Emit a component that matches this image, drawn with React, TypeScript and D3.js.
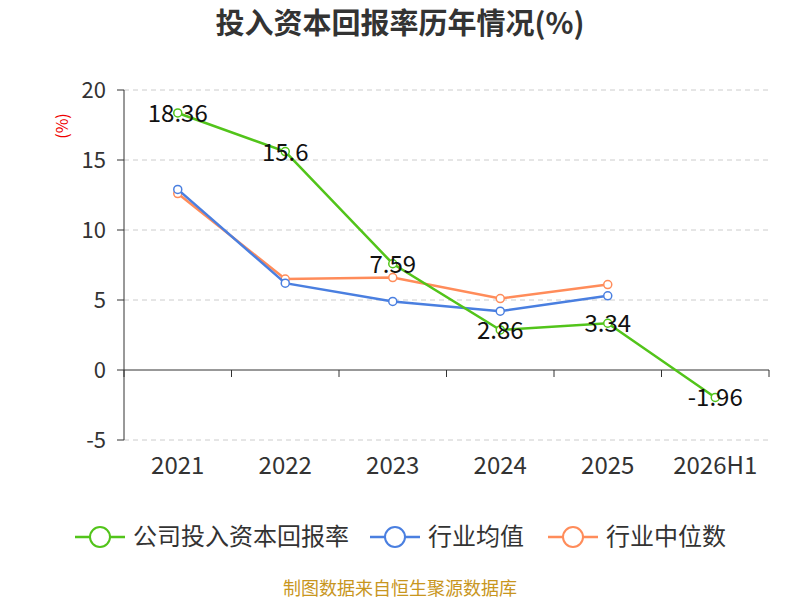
import React from "react";
import * as d3 from "d3";

const categories = ["2021", "2022", "2023", "2024", "2025", "2026H1"];
const company = [18.36, 15.6, 7.59, 2.86, 3.34, -1.96];
const industryAvg = [12.9, 6.2, 4.9, 4.2, 5.3];
const industryMedian = [12.6, 6.5, 6.6, 5.1, 6.1];
const yTicks = [-5, 0, 5, 10, 15, 20];

const F = "'Noto Sans CJK SC','Noto Sans',sans-serif";

export default function App() {
  const x = d3.scaleBand().domain(categories).range([124, 769]);
  const y = d3.scaleLinear().domain([-5, 20]).range([440, 90]);
  const cx = (i: number) => x(categories[i])! + x.bandwidth() / 2;
  const line = d3.line<number>().x((_, i) => cx(i)).y((d) => y(d));
  const series = [
    { name: "公司投入资本回报率", data: company, color: "#52c41a" },
    { name: "行业均值", data: industryAvg, color: "#4a7fe0" },
    { name: "行业中位数", data: industryMedian, color: "#ff8c5a" },
  ];
  const legendX = [75, 370, 548];
  return (
    <svg width={800} height={600} style={{ position: "absolute", left: 0, top: 0, fontFamily: F }}>
      <rect width={800} height={600} fill="#fff" />
      <text x={400} y={34} textAnchor="middle" fontSize={29} fontWeight="bold" fill="#333">投入资本回报率历年情况(%)</text>
      <text x={68} y={126} fontSize={16} fill="#e00" textAnchor="middle" transform="rotate(-90 68 126)">(%)</text>
      {yTicks.map((t) => (
        <g key={t}>
          {t !== 0 && <line x1={124} x2={769} y1={y(t)} y2={y(t)} stroke="#ccc" strokeDasharray="5,4" />}
          <line x1={117} x2={124} y1={y(t)} y2={y(t)} stroke="#333" />
          <text x={106} y={y(t) + 8} textAnchor="end" fontSize={22} fill="#333">{t}</text>
        </g>
      ))}
      <line x1={124} x2={124} y1={90} y2={440} stroke="#333" />
      <line x1={124} x2={769} y1={y(0)} y2={y(0)} stroke="#333" />
      {d3.range(categories.length + 1).map((i) => {
        const xx = 124 + i * x.step();
        return <line key={i} x1={xx} x2={xx} y1={y(0)} y2={y(0) + 7} stroke="#333" />;
      })}
      {categories.map((c, i) => (
        <text key={c} x={cx(i)} y={474} textAnchor="middle" fontSize={24} fill="#333">{c}</text>
      ))}
      {series.slice().reverse().map((s) => (
        <g key={s.name}>
          <path d={line(s.data)!} fill="none" stroke={s.color} strokeWidth={2.5} />
          {s.data.map((v, i) => (
            <circle key={i} cx={cx(i)} cy={y(v)} r={4} fill="#fff" stroke={s.color} strokeWidth={1.5} />
          ))}
        </g>
      ))}
      {company.map((v, i) => (
        <text key={i} x={cx(i)} y={y(v) + 9} textAnchor="middle" fontSize={24} fill="#111">{v}</text>
      ))}
      {series.map((s, i) => (
        <g key={s.name}>
          <line x1={legendX[i]} x2={legendX[i] + 50} y1={537} y2={537} stroke={s.color} strokeWidth={2.5} />
          <circle cx={legendX[i] + 25} cy={537} r={10} fill="#fff" stroke={s.color} strokeWidth={2} />
          <text x={legendX[i] + 58} y={545} fontSize={24} fill="#333">{s.name}</text>
        </g>
      ))}
      <text x={400} y={595} textAnchor="middle" fontSize={18} fill="#c8961e">制图数据来自恒生聚源数据库</text>
    </svg>
  );
}
